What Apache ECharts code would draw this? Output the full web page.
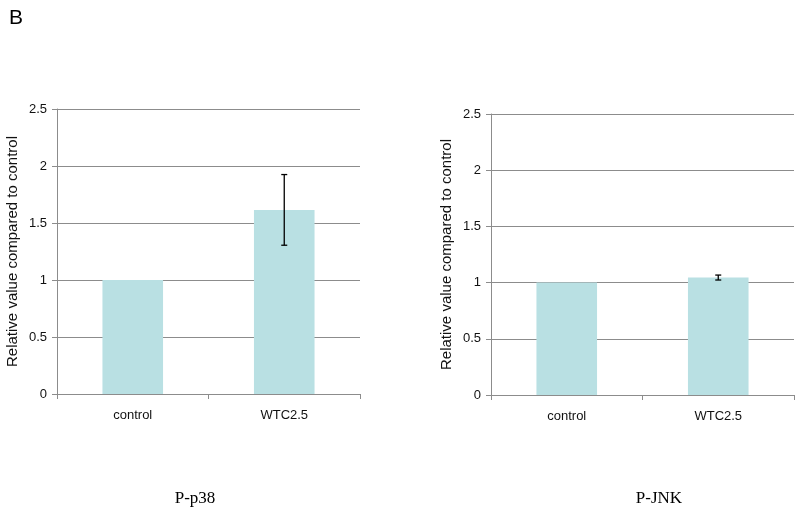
<!DOCTYPE html>
<html><head><meta charset="utf-8">
<script src="https://cdn.jsdelivr.net/npm/echarts@6/dist/echarts.min.js"></script>
<style>html,body{margin:0;padding:0;background:#fff}#c{width:800px;height:511px}</style>
</head><body><div id="c"></div>
<script>
const categories = ['control', 'WTC2.5'];
const p38Values = [1.0, 1.615];
const p38Errors = [0, 0.31];
const jnkValues = [1.0, 1.045];
const jnkErrors = [0, 0.022];
const yTicks = [0, 0.5, 1, 1.5, 2, 2.5];
const panelTitles = ['P-p38', 'P-JNK'];
const yAxisName = 'Relative value compared to control';

const barColor = '#b9e0e3';
const gridColor = '#8c8c8c';
const font = 'Liberation Sans, Arial, sans-serif';
const serif = 'Liberation Serif, Times New Roman, serif';

function errorData(vals, errs) {
  return vals.map((v, i) => [i, v - errs[i], v + errs[i], errs[i]]);
}
function errRender(params, api) {
  const err = api.value(3);
  if (!err) return null;
  const lo = api.coord([api.value(0), api.value(1)]);
  const hi = api.coord([api.value(0), api.value(2)]);
  const hw = 3;
  const st = { stroke: '#000', lineWidth: 1.3 };
  return { type: 'group', children: [
    { type: 'line', shape: { x1: lo[0], y1: lo[1], x2: hi[0], y2: hi[1] }, style: st },
    { type: 'line', shape: { x1: lo[0] - hw, y1: lo[1], x2: lo[0] + hw, y2: lo[1] }, style: st },
    { type: 'line', shape: { x1: hi[0] - hw, y1: hi[1], x2: hi[0] + hw, y2: hi[1] }, style: st }
  ]};
}
const grids = [
  { left: 57, width: 303, top: 109, height: 285 },
  { left: 491, width: 303, top: 114, height: 281 }
];
function xAxis(idx) {
  return { type: 'category', gridIndex: idx, data: categories,
    axisLine: { lineStyle: { color: gridColor, width: 1 } },
    axisTick: { show: true, alignWithLabel: false, length: 5, lineStyle: { color: gridColor } },
    axisLabel: { color: '#111', fontFamily: font, fontSize: 13, margin: 15 } };
}
function yAxis(idx) {
  return { type: 'value', gridIndex: idx, min: yTicks[0], max: yTicks[yTicks.length - 1], interval: yTicks[1] - yTicks[0],
    name: yAxisName, nameLocation: 'middle', nameGap: 37, nameRotate: 90,
    nameTextStyle: { color: '#111', fontFamily: font, fontSize: 15 },
    axisLine: { show: true, lineStyle: { color: gridColor } },
    axisTick: { show: true, length: 5, lineStyle: { color: gridColor } },
    axisLabel: { color: '#111', fontFamily: font, fontSize: 13, margin: 10,
      formatter: v => String(v) },
    splitLine: { show: true, lineStyle: { color: gridColor, width: 1 } } };
}
const chart = echarts.init(document.getElementById('c'), null, { renderer: 'canvas' });
chart.setOption({
  backgroundColor: '#fff',
  animation: false,
  title: [
    { text: 'B', left: 4, top: 3, textStyle: { fontFamily: font, fontSize: 21, fontWeight: 'normal', color: '#000' } },
    { text: panelTitles[0], left: 190, top: 485, textAlign: 'center', textStyle: { fontFamily: serif, fontSize: 17, fontWeight: 'normal', color: '#000' } },
    { text: panelTitles[1], left: 654, top: 485, textAlign: 'center', textStyle: { fontFamily: serif, fontSize: 17, fontWeight: 'normal', color: '#000' } }
  ],
  grid: grids,
  xAxis: [xAxis(0), xAxis(1)],
  yAxis: [yAxis(0), yAxis(1)],
  series: [
    { type: 'bar', xAxisIndex: 0, yAxisIndex: 0, data: p38Values, barWidth: '40%', itemStyle: { color: barColor }, z: 2 },
    { type: 'custom', xAxisIndex: 0, yAxisIndex: 0, data: errorData(p38Values, p38Errors), renderItem: errRender, z: 5,
      encode: { x: 0, y: [1, 2] } },
    { type: 'bar', xAxisIndex: 1, yAxisIndex: 1, data: jnkValues, barWidth: '40%', itemStyle: { color: barColor }, z: 2 },
    { type: 'custom', xAxisIndex: 1, yAxisIndex: 1, data: errorData(jnkValues, jnkErrors), renderItem: errRender, z: 5,
      encode: { x: 0, y: [1, 2] } }
  ]
});
</script></body></html>
